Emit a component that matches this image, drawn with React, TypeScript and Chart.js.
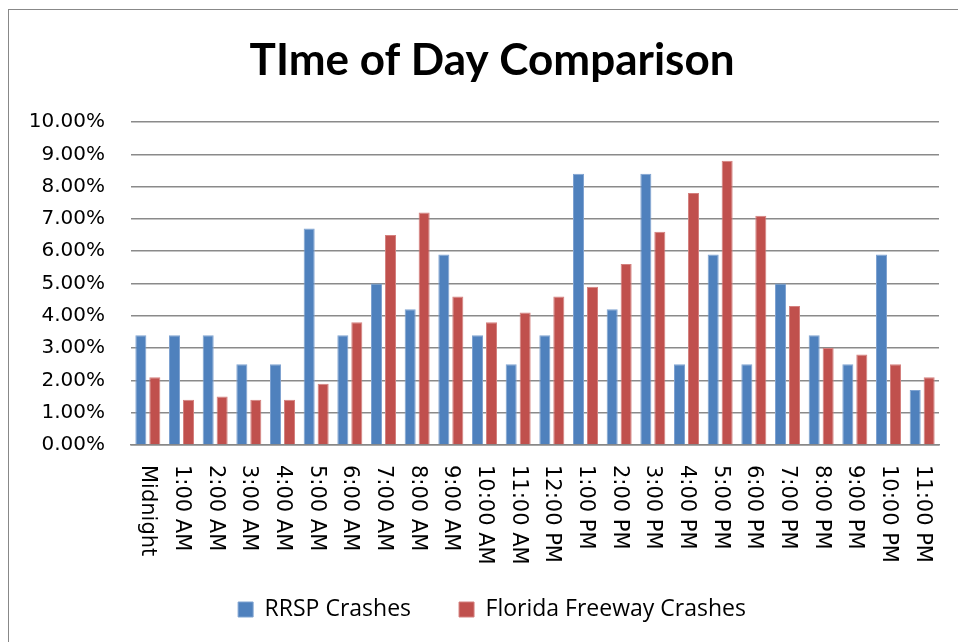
import React, { useEffect, useRef } from "react";
import { Chart, registerables } from "chart.js";

Chart.register(...registerables);

const categories = [
  "Midnight", "1:00 AM", "2:00 AM", "3:00 AM", "4:00 AM", "5:00 AM", "6:00 AM", "7:00 AM",
  "8:00 AM", "9:00 AM", "10:00 AM", "11:00 AM", "12:00 PM", "1:00 PM", "2:00 PM", "3:00 PM",
  "4:00 PM", "5:00 PM", "6:00 PM", "7:00 PM", "8:00 PM", "9:00 PM", "10:00 PM", "11:00 PM",
];

const rrspCrashes = [
  3.4, 3.4, 3.4, 2.5, 2.5, 6.7, 3.4, 5.0,
  4.2, 5.9, 3.4, 2.5, 3.4, 8.4, 4.2, 8.4,
  2.5, 5.9, 2.5, 5.0, 3.4, 2.5, 5.9, 1.7,
];

const floridaFreewayCrashes = [
  2.1, 1.4, 1.5, 1.4, 1.4, 1.9, 3.8, 6.5,
  7.2, 4.6, 3.8, 4.1, 4.6, 4.9, 5.6, 6.6,
  7.8, 8.8, 7.1, 4.3, 3.0, 2.8, 2.5, 2.1,
];

const seriesNames = ["RRSP Crashes", "Florida Freeway Crashes"];
const titleText = "TIme of Day Comparison";
const yMin = 0;
const yMax = 10;
const yStep = 1;

const backgroundPlugin = {
  id: "bgBorder",
  beforeDraw(chart: any) {
    const ctx = chart.ctx;
    ctx.save();
    ctx.fillStyle = "#ffffff";
    ctx.fillRect(0, 0, chart.width, chart.height);
    ctx.strokeStyle = "#888888";
    ctx.lineWidth = 1;
    ctx.strokeRect(8.5, 9.5, 1200, 1200);
    ctx.restore();
  },
};

const xLabelPlugin = {
  id: "xLabels",
  afterDraw(chart: any) {
    const ctx = chart.ctx;
    const xScale = chart.scales.x;
    const top = chart.chartArea.bottom + 20;
    ctx.save();
    ctx.font = "21px 'DejaVu Sans'";
    ctx.fillStyle = "#000000";
    ctx.textAlign = "left";
    ctx.textBaseline = "middle";
    categories.forEach((label, i) => {
      const x = xScale.getPixelForTick(i);
      ctx.save();
      ctx.translate(x, top);
      ctx.rotate(Math.PI / 2);
      ctx.fillText(label, 0, 0);
      ctx.restore();
    });
    ctx.restore();
  },
};

export default function App() {
  const canvasRef = useRef<HTMLCanvasElement | null>(null);

  useEffect(() => {
    const canvas = canvasRef.current;
    if (!canvas) return;
    const chart = new Chart(canvas, {
      type: "bar",
      data: {
        labels: categories,
        datasets: [
          {
            label: seriesNames[0],
            data: rrspCrashes,
            backgroundColor: "#4F81BD",
            borderColor: "#7fa3d1",
            borderWidth: 1,
            categoryPercentage: 0.83,
            barPercentage: 0.79,
          },
          {
            label: seriesNames[1],
            data: floridaFreewayCrashes,
            backgroundColor: "#C0504D",
            borderColor: "#d4807e",
            borderWidth: 1,
            categoryPercentage: 0.83,
            barPercentage: 0.79,
          },
        ],
      },
      options: {
        responsive: false,
        animation: false,
        devicePixelRatio: 1,
        layout: { padding: { left: 26, right: 0, top: 0, bottom: 11 } },
        plugins: {
          title: {
            display: true,
            text: titleText,
            color: "#000000",
            font: { family: "Lato", size: 44, weight: "bold" },
            padding: { top: 34, bottom: 35.2 },
          },
          legend: {
            display: true,
            position: "bottom",
            labels: {
              color: "#000000",
              font: { family: "'Open Sans'", size: 23 },
              boxWidth: 15,
              boxHeight: 15,
              padding: 48,
            },
          },
          tooltip: { enabled: false },
        },
        scales: {
          x: {
            grid: { display: false },
            border: { display: true, color: "#888888", width: 1.5 },
            ticks: { display: false },
            afterFit: (scale: any) => {
              scale.height = 105;
            },
          },
          y: {
            min: yMin,
            max: yMax,
            grid: { color: "#8a8a8a", lineWidth: 1.5, drawTicks: false },
            border: { display: false },
            ticks: {
              stepSize: yStep,
              padding: 26,
              color: "#000000",
              font: { family: "'DejaVu Sans'", size: 20 },
              callback: (v: any) => Number(v).toFixed(2) + "%",
            },
            afterFit: (scale: any) => {
              scale.width = 105;
            },
          },
          yRightSpacer: {
            type: "linear",
            position: "right",
            display: true,
            grid: { display: false, drawTicks: false },
            border: { display: false },
            ticks: { display: false },
            afterFit: (scale: any) => {
              scale.width = 19;
            },
          },
        },
      },
      plugins: [backgroundPlugin, xLabelPlugin],
    });
    return () => chart.destroy();
  }, []);

  return (
    <div style={{ position: "fixed", left: 0, top: 0, width: 958, height: 642 }}>
      <canvas ref={canvasRef} width={958} height={642} />
    </div>
  );
}
